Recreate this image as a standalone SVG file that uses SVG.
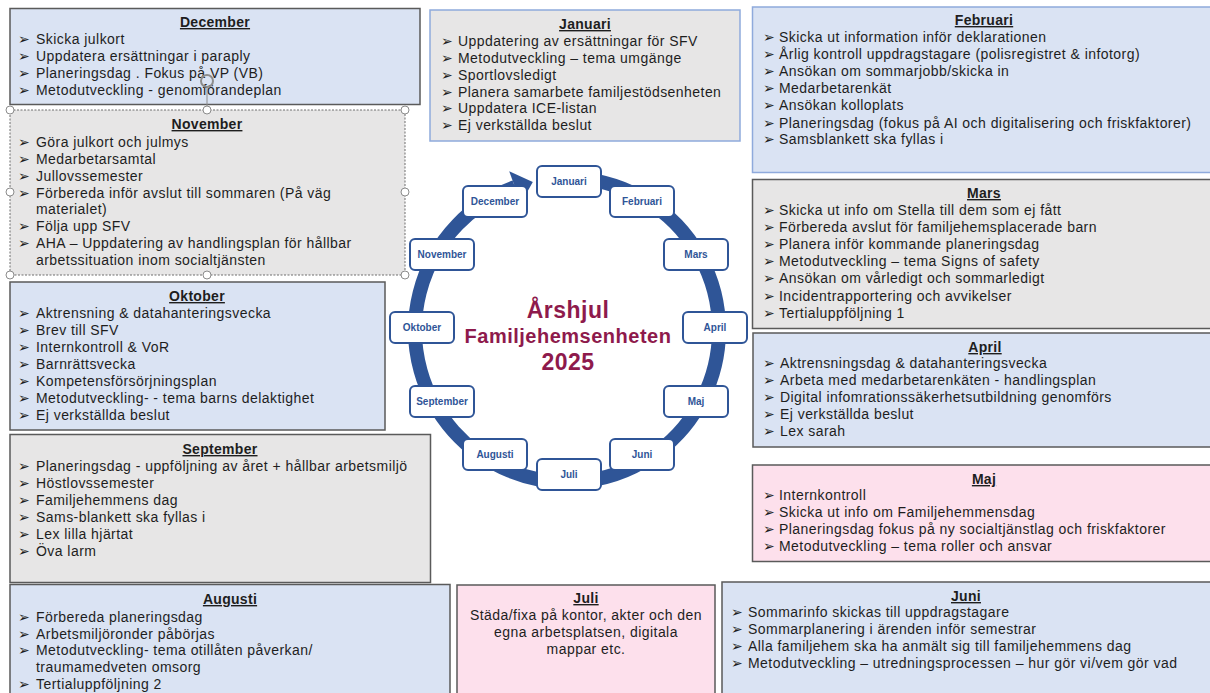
<svg xmlns="http://www.w3.org/2000/svg" width="1210" height="693" viewBox="0 0 1210 693">
<style>
.bx{stroke:#5a5a5a;stroke-width:1.5}
.blue{fill:#dae3f3}.gray{fill:#e7e6e6}.pink{fill:#fde0ec}
.t{font-family:"Liberation Sans",Arial,sans-serif;font-size:14px;letter-spacing:0.45px;fill:#1e1e1e}
.h{font-family:"Liberation Sans",Arial,sans-serif;font-size:14px;font-weight:bold;fill:#1e1e1e;text-anchor:middle;text-decoration:underline;letter-spacing:0.3px}
.b{font-family:"DejaVu Sans",sans-serif;font-size:14px;fill:#1e1e1e}
.mb{fill:#fff;stroke:#2f5597;stroke-width:2}
.ml{font-family:"Liberation Sans",Arial,sans-serif;font-size:10px;font-weight:bold;fill:#2f5597;text-anchor:middle}
.c{font-family:"Liberation Sans",Arial,sans-serif;fill:#8e1a4c;text-anchor:middle;font-weight:bold;letter-spacing:0.5px}
.hd{fill:#fff;stroke:#8c8c8c;stroke-width:1}
</style>

<g id="connectors">
<path d="M580.2,178.6 A152,152 0 1 1 515,187.2" fill="none" stroke="#2f5597" stroke-width="14"/>
<polygon points="509.2,171.2 532.8,181.9 520.8,203.2" fill="#2f5597"/>
</g>

<g id="wheel-title">
<text class="c" x="568" y="318" font-size="23">Årshjul</text>
<text class="c" x="568" y="343" font-size="20">Familjehemsenheten</text>
<text class="c" x="568" y="370" font-size="23">2025</text>
</g>

<g id="m-jan"><rect class="mb" x="537" y="166" width="64" height="31" rx="5"/><text class="ml" x="569" y="185">Januari</text></g>
<g id="m-feb"><rect class="mb" x="610" y="186" width="64" height="31" rx="5"/><text class="ml" x="642" y="205">Februari</text></g>
<g id="m-mar"><rect class="mb" x="664" y="239" width="64" height="31" rx="5"/><text class="ml" x="696" y="258">Mars</text></g>
<g id="m-apr"><rect class="mb" x="683" y="312" width="64" height="31" rx="5"/><text class="ml" x="715" y="331">April</text></g>
<g id="m-maj"><rect class="mb" x="664" y="386" width="64" height="31" rx="5"/><text class="ml" x="696" y="405">Maj</text></g>
<g id="m-jun"><rect class="mb" x="610" y="439" width="64" height="31" rx="5"/><text class="ml" x="642" y="458">Juni</text></g>
<g id="m-jul"><rect class="mb" x="537" y="459" width="64" height="31" rx="5"/><text class="ml" x="569" y="478">Juli</text></g>
<g id="m-aug"><rect class="mb" x="463" y="439" width="64" height="31" rx="5"/><text class="ml" x="495" y="458">Augusti</text></g>
<g id="m-sep"><rect class="mb" x="410" y="386" width="64" height="31" rx="5"/><text class="ml" x="442" y="405">September</text></g>
<g id="m-okt"><rect class="mb" x="390" y="312" width="64" height="31" rx="5"/><text class="ml" x="422" y="331">Oktober</text></g>
<g id="m-nov"><rect class="mb" x="410" y="239" width="64" height="31" rx="5"/><text class="ml" x="442" y="258">November</text></g>
<g id="m-dec"><rect class="mb" x="463" y="186" width="64" height="31" rx="5"/><text class="ml" x="495" y="205">December</text></g>

<g id="box-december">
<rect class="bx blue" x="10" y="8.5" width="410" height="96"/>
<text class="h" x="215" y="27">December</text>
<text class="b" x="18" y="44">➢</text><text class="t" x="36" y="44">Skicka julkort</text>
<text class="b" x="18" y="61">➢</text><text class="t" x="36" y="61">Uppdatera ersättningar i paraply</text>
<text class="b" x="18" y="78">➢</text><text class="t" x="36" y="78">Planeringsdag . Fokus på VP (VB)</text>
<text class="b" x="18" y="95">➢</text><text class="t" x="36" y="95">Metodutveckling - genomförandeplan</text>
</g>

<g id="box-november">
<rect class="gray" x="10" y="110" width="395" height="165" stroke="#6e6e6e" stroke-width="1" stroke-dasharray="2,1.5"/>
<text class="h" x="207" y="129">November</text>
<text class="b" x="18" y="147">➢</text><text class="t" x="36" y="147">Göra julkort och julmys</text>
<text class="b" x="18" y="164">➢</text><text class="t" x="36" y="164">Medarbetarsamtal</text>
<text class="b" x="18" y="181">➢</text><text class="t" x="36" y="181">Jullovssemester</text>
<text class="b" x="18" y="198">➢</text><text class="t" x="36" y="198">Förbereda inför avslut till sommaren (På väg</text>
<text class="t" x="36" y="214">materialet)</text>
<text class="b" x="18" y="231">➢</text><text class="t" x="36" y="231">Följa upp SFV</text>
<text class="b" x="18" y="248">➢</text><text class="t" x="36" y="248">AHA – Uppdatering av handlingsplan för hållbar</text>
<text class="t" x="36" y="265">arbetssituation inom socialtjänsten</text>
<line x1="207" y1="110" x2="207" y2="88" stroke="#8c8c8c" stroke-width="1"/>
<circle cx="207" cy="81" r="6" fill="none" stroke="#8c8c8c" stroke-width="2"/>
<circle class="hd" cx="10" cy="110" r="4"/><circle class="hd" cx="207" cy="110" r="4"/><circle class="hd" cx="405" cy="110" r="4"/>
<circle class="hd" cx="10" cy="192" r="4"/><circle class="hd" cx="405" cy="192" r="4"/>
<circle class="hd" cx="10" cy="275" r="4"/><circle class="hd" cx="207" cy="275" r="4"/><circle class="hd" cx="405" cy="275" r="4"/>
</g>

<g id="box-oktober">
<rect class="bx blue" x="10" y="282" width="375" height="148"/>
<text class="h" x="197" y="301">Oktober</text>
<text class="b" x="18" y="318">➢</text><text class="t" x="36" y="318">Aktrensning &amp;  datahanteringsvecka</text>
<text class="b" x="18" y="335">➢</text><text class="t" x="36" y="335">Brev till SFV</text>
<text class="b" x="18" y="352">➢</text><text class="t" x="36" y="352">Internkontroll &amp; VoR</text>
<text class="b" x="18" y="369">➢</text><text class="t" x="36" y="369">Barnrättsvecka</text>
<text class="b" x="18" y="386">➢</text><text class="t" x="36" y="386">Kompetensförsörjningsplan</text>
<text class="b" x="18" y="403">➢</text><text class="t" x="36" y="403">Metodutveckling- - tema barns delaktighet</text>
<text class="b" x="18" y="420">➢</text><text class="t" x="36" y="420">Ej verkställda beslut</text>
</g>

<g id="box-september">
<rect class="bx gray" x="10" y="434.5" width="420.5" height="148"/>
<text class="h" x="220" y="454">September</text>
<text class="b" x="18" y="471">➢</text><text class="t" x="36" y="471">Planeringsdag - uppföljning av året + hållbar arbetsmiljö</text>
<text class="b" x="18" y="488">➢</text><text class="t" x="36" y="488">Höstlovssemester</text>
<text class="b" x="18" y="505">➢</text><text class="t" x="36" y="505">Familjehemmens dag</text>
<text class="b" x="18" y="522">➢</text><text class="t" x="36" y="522">Sams-blankett ska fyllas i</text>
<text class="b" x="18" y="539">➢</text><text class="t" x="36" y="539">Lex lilla hjärtat</text>
<text class="b" x="18" y="556">➢</text><text class="t" x="36" y="556">Öva larm</text>
</g>

<g id="box-augusti">
<rect class="bx blue" x="10" y="584.5" width="440" height="115"/>
<text class="h" x="230" y="604">Augusti</text>
<text class="b" x="18" y="622">➢</text><text class="t" x="36" y="622">Förbereda planeringsdag</text>
<text class="b" x="18" y="639">➢</text><text class="t" x="36" y="639">Arbetsmiljöronder påbörjas</text>
<text class="b" x="18" y="655">➢</text><text class="t" x="36" y="655">Metodutveckling- tema otillåten påverkan/</text>
<text class="t" x="36" y="672">traumamedveten omsorg</text>
<text class="b" x="18" y="689">➢</text><text class="t" x="36" y="689">Tertialuppföljning 2</text>
</g>

<g id="box-januari">
<rect class="gray" x="430" y="10" width="310" height="131" stroke="#8faadc" stroke-width="1.5"/>
<text class="h" x="585" y="29">Januari</text>
<text class="b" x="441" y="46">➢</text><text class="t" x="458" y="46">Uppdatering av ersättningar för SFV</text>
<text class="b" x="441" y="63">➢</text><text class="t" x="458" y="63">Metodutveckling – tema umgänge</text>
<text class="b" x="441" y="80">➢</text><text class="t" x="458" y="80">Sportlovsledigt</text>
<text class="b" x="441" y="97">➢</text><text class="t" x="458" y="97">Planera samarbete familjestödsenheten</text>
<text class="b" x="441" y="113">➢</text><text class="t" x="458" y="113">Uppdatera ICE-listan</text>
<text class="b" x="441" y="130">➢</text><text class="t" x="458" y="130">Ej verkställda beslut</text>
</g>

<g id="box-februari">
<rect class="blue" x="752.5" y="7" width="470" height="165.5" stroke="#8faadc" stroke-width="1.5"/>
<text class="h" x="984" y="25">Februari</text>
<text class="b" x="763" y="42">➢</text><text class="t" x="779" y="42">Skicka ut information inför deklarationen</text>
<text class="b" x="763" y="59">➢</text><text class="t" x="779" y="59">Årlig kontroll uppdragstagare (polisregistret &amp; infotorg)</text>
<text class="b" x="763" y="76">➢</text><text class="t" x="779" y="76">Ansökan om sommarjobb/skicka in</text>
<text class="b" x="763" y="93">➢</text><text class="t" x="779" y="93">Medarbetarenkät</text>
<text class="b" x="763" y="110">➢</text><text class="t" x="779" y="110">Ansökan kolloplats</text>
<text class="b" x="763" y="128">➢</text><text class="t" x="779" y="128">Planeringsdag (fokus på AI och digitalisering och friskfaktorer)</text>
<text class="b" x="763" y="144">➢</text><text class="t" x="779" y="144">Samsblankett ska fyllas i</text>
</g>

<g id="box-mars">
<rect class="bx gray" x="752.5" y="179.5" width="470" height="149"/>
<text class="h" x="984" y="198">Mars</text>
<text class="b" x="763" y="215">➢</text><text class="t" x="779" y="215">Skicka ut info om Stella till dem som ej fått</text>
<text class="b" x="763" y="232">➢</text><text class="t" x="779" y="232">Förbereda avslut för familjehemsplacerade barn</text>
<text class="b" x="763" y="249">➢</text><text class="t" x="779" y="249">Planera inför kommande planeringsdag</text>
<text class="b" x="763" y="266">➢</text><text class="t" x="779" y="266">Metodutveckling – tema Signs of safety</text>
<text class="b" x="763" y="283">➢</text><text class="t" x="779" y="283">Ansökan om vårledigt och sommarledigt</text>
<text class="b" x="763" y="301">➢</text><text class="t" x="779" y="301">Incidentrapportering och avvikelser</text>
<text class="b" x="763" y="318">➢</text><text class="t" x="779" y="318">Tertialuppföljning 1</text>
</g>

<g id="box-april">
<rect class="bx blue" x="753" y="333" width="470" height="114"/>
<text class="h" x="985" y="352">April</text>
<text class="b" x="763" y="368">➢</text><text class="t" x="780" y="368">Aktrensningsdag &amp; datahanteringsvecka</text>
<text class="b" x="763" y="385">➢</text><text class="t" x="780" y="385">Arbeta med medarbetarenkäten - handlingsplan</text>
<text class="b" x="763" y="402">➢</text><text class="t" x="780" y="402">Digital infomrationssäkerhetsutbildning genomförs</text>
<text class="b" x="763" y="419">➢</text><text class="t" x="780" y="419">Ej verkställda beslut</text>
<text class="b" x="763" y="436">➢</text><text class="t" x="780" y="436">Lex sarah</text>
</g>

<g id="box-maj">
<rect class="bx pink" x="752.5" y="465" width="470" height="96.5"/>
<text class="h" x="984" y="484">Maj</text>
<text class="b" x="763" y="500">➢</text><text class="t" x="779" y="500">Internkontroll</text>
<text class="b" x="763" y="517">➢</text><text class="t" x="779" y="517">Skicka ut info om Familjehemmensdag</text>
<text class="b" x="763" y="534">➢</text><text class="t" x="779" y="534">Planeringsdag fokus på ny socialtjänstlag och friskfaktorer</text>
<text class="b" x="763" y="551">➢</text><text class="t" x="779" y="551">Metodutveckling – tema roller och ansvar</text>
</g>

<g id="box-juni">
<rect class="bx blue" x="722" y="582" width="500" height="120"/>
<text class="h" x="966" y="601">Juni</text>
<text class="b" x="731" y="617">➢</text><text class="t" x="748" y="617">Sommarinfo skickas till uppdragstagare</text>
<text class="b" x="731" y="634">➢</text><text class="t" x="748" y="634">Sommarplanering i ärenden inför semestrar</text>
<text class="b" x="731" y="651">➢</text><text class="t" x="748" y="651">Alla familjehem ska ha anmält sig till familjehemmens dag</text>
<text class="b" x="731" y="668">➢</text><text class="t" x="748" y="668">Metodutveckling – utredningsprocessen – hur gör vi/vem gör vad</text>
</g>

<g id="box-juli">
<rect class="bx pink" x="457" y="585" width="258" height="115"/>
<text class="h" x="586" y="603">Juli</text>
<text class="t" x="586" y="620" text-anchor="middle">Städa/fixa på kontor, akter och den</text>
<text class="t" x="586" y="637" text-anchor="middle">egna arbetsplatsen, digitala</text>
<text class="t" x="586" y="654" text-anchor="middle">mappar etc.</text>
</g>
</svg>
